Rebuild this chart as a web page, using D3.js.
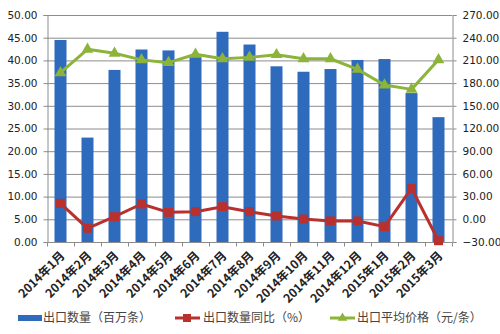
<!DOCTYPE html>
<html>
<head>
<meta charset="utf-8">
<script src="https://cdn.jsdelivr.net/npm/d3@7"></script>
<style>
  body { margin: 0; background: #fff; }
  svg { display: block; }
</style>
</head>
<body>
<svg id="chart" width="500" height="334"></svg>
<script>
// Monthly export data
const months = ["2014年1月","2014年2月","2014年3月","2014年4月","2014年5月","2014年6月","2014年7月","2014年8月","2014年9月","2014年10月","2014年11月","2014年12月","2015年1月","2015年2月","2015年3月"];
const quantity = [44.5, 23.0, 37.9, 42.4, 42.2, 40.8, 46.3, 43.5, 38.7, 37.5, 38.1, 40.1, 40.3, 32.8, 27.5];      // 出口数量（百万条）
const yoy = [21.1, -11.9, 3.4, 20.2, 9.2, 10.1, 16.7, 10.1, 4.4, 0.4, -2.2, -2.2, -9.7, 41.0, -28.3];               // 出口数量同比（%）
const avgPrice = [193.7, 224.7, 219.4, 210.7, 207.0, 218.1, 212.1, 214.0, 217.5, 212.2, 212.2, 198.2, 177.5, 171.7, 210.8]; // 出口平均价格（元/条）
const leftTicks = [0, 5, 10, 15, 20, 25, 30, 35, 40, 45, 50];
const rightTicks = [-30, 0, 30, 60, 90, 120, 150, 180, 210, 240, 270];
const legendLabels = ["出口数量（百万条）", "出口数量同比（%）", "出口平均价格（元/条）"];

const BLUE = "#2f6bbd", RED = "#b8312f", GREEN = "#8cb43a";
const svg = d3.select("#chart");
const m = { left: 47, right: 452, top: 15, bottom: 242 };

const x = d3.scaleBand().domain(months).range([m.left, m.right]).paddingInner(0).paddingOuter(0);
const yL = d3.scaleLinear().domain([0, 50]).range([m.bottom, m.top]);
const yR = d3.scaleLinear().domain([-30, 270]).range([m.bottom, m.top]);

// gridlines
svg.append("g").selectAll("line").data(leftTicks.slice(1)).join("line")
  .attr("x1", m.left).attr("x2", m.right)
  .attr("y1", d => yL(d) + 0.5).attr("y2", d => yL(d) + 0.5)
  .attr("stroke", "#8c8c8c").attr("stroke-width", 1);

// left axis
const axL = svg.append("g").attr("transform", `translate(${m.left + 0.5},0)`)
  .call(d3.axisLeft(yL).tickValues(leftTicks).tickFormat(d3.format(".2f")).tickSize(4).tickPadding(6));
// right axis
const axR = svg.append("g").attr("transform", `translate(${m.right + 0.5},0)`)
  .call(d3.axisRight(yR).tickValues(rightTicks).tickFormat(d3.format(".2f")).tickSize(4).tickPadding(6));
[axL, axR].forEach(a => {
  a.select(".domain").attr("stroke", "#8c8c8c");
  a.selectAll(".tick line").attr("stroke", "#8c8c8c");
  a.selectAll("text").attr("font-family", "DejaVu Sans, sans-serif").attr("font-size", 10.5).attr("fill", "#222");
});

// bars
const bw = 12;
svg.append("g").selectAll("rect").data(quantity).join("rect")
  .attr("x", (d, i) => x(months[i]) + x.bandwidth() / 2 - bw / 2)
  .attr("width", bw)
  .attr("y", d => yL(d))
  .attr("height", d => yL(0) - yL(d))
  .attr("fill", BLUE);

// bottom axis with rotated month labels
const axB = svg.append("g").attr("transform", `translate(0,${m.bottom + 0.5})`);
axB.append("line").attr("x1", m.left).attr("x2", m.right).attr("stroke", "#8c8c8c");
axB.selectAll("line.tk").data(d3.range(months.length + 1)).join("line").attr("class", "tk")
  .attr("x1", i => m.left + i * x.step() + 0.5).attr("x2", i => m.left + i * x.step() + 0.5)
  .attr("y1", 0).attr("y2", 4).attr("stroke", "#8c8c8c");
axB.selectAll("text").data(months).join("text")
  .attr("transform", d => `translate(${x(d) + x.bandwidth() / 2 + 5},${14}) rotate(-45)`)
  .attr("text-anchor", "end")
  .attr("font-family", "Noto Sans CJK SC, sans-serif")
  .attr("font-size", 12).attr("font-weight", "bold").attr("fill", "#222")
  .text(d => d);

// lines with markers
const cx = i => x(months[i]) + x.bandwidth() / 2;
const lineR = d3.line().x((d, i) => cx(i)).y(d => yR(d));
svg.append("path").datum(yoy).attr("d", lineR).attr("fill", "none").attr("stroke", RED).attr("stroke-width", 3).attr("stroke-linejoin", "round");
svg.append("g").selectAll("rect").data(yoy).join("rect")
  .attr("x", (d, i) => cx(i) - 4.5).attr("y", d => yR(d) - 4.5)
  .attr("width", 9).attr("height", 9).attr("fill", RED);

svg.append("path").datum(avgPrice).attr("d", lineR).attr("fill", "none").attr("stroke", GREEN).attr("stroke-width", 3).attr("stroke-linejoin", "round");
const tri = d3.symbol().type(d3.symbolTriangle).size(60);
svg.append("g").selectAll("path").data(avgPrice).join("path")
  .attr("transform", (d, i) => `translate(${cx(i)},${yR(d)})`)
  .attr("d", tri).attr("fill", GREEN);

// legend
const lg = svg.append("g").attr("font-family", "Noto Sans CJK SC, sans-serif").attr("font-size", 12).attr("fill", "#444");
const ly = 318;
lg.append("rect").attr("x", 18).attr("y", ly - 3).attr("width", 24).attr("height", 6).attr("fill", BLUE);
lg.append("text").attr("x", 43).attr("y", ly + 4).text(legendLabels[0]);
lg.append("line").attr("x1", 175).attr("x2", 200).attr("y1", ly).attr("y2", ly).attr("stroke", RED).attr("stroke-width", 3);
lg.append("rect").attr("x", 183).attr("y", ly - 4).attr("width", 8).attr("height", 8).attr("fill", RED);
lg.append("text").attr("x", 203).attr("y", ly + 4).text(legendLabels[1]);
lg.append("line").attr("x1", 330).attr("x2", 355).attr("y1", ly).attr("y2", ly).attr("stroke", GREEN).attr("stroke-width", 3);
lg.append("path").attr("transform", `translate(342.5,${ly})`).attr("d", d3.symbol().type(d3.symbolTriangle).size(40)).attr("fill", GREEN);
lg.append("text").attr("x", 357).attr("y", ly + 4).text(legendLabels[2]);
</script>
</body>
</html>
